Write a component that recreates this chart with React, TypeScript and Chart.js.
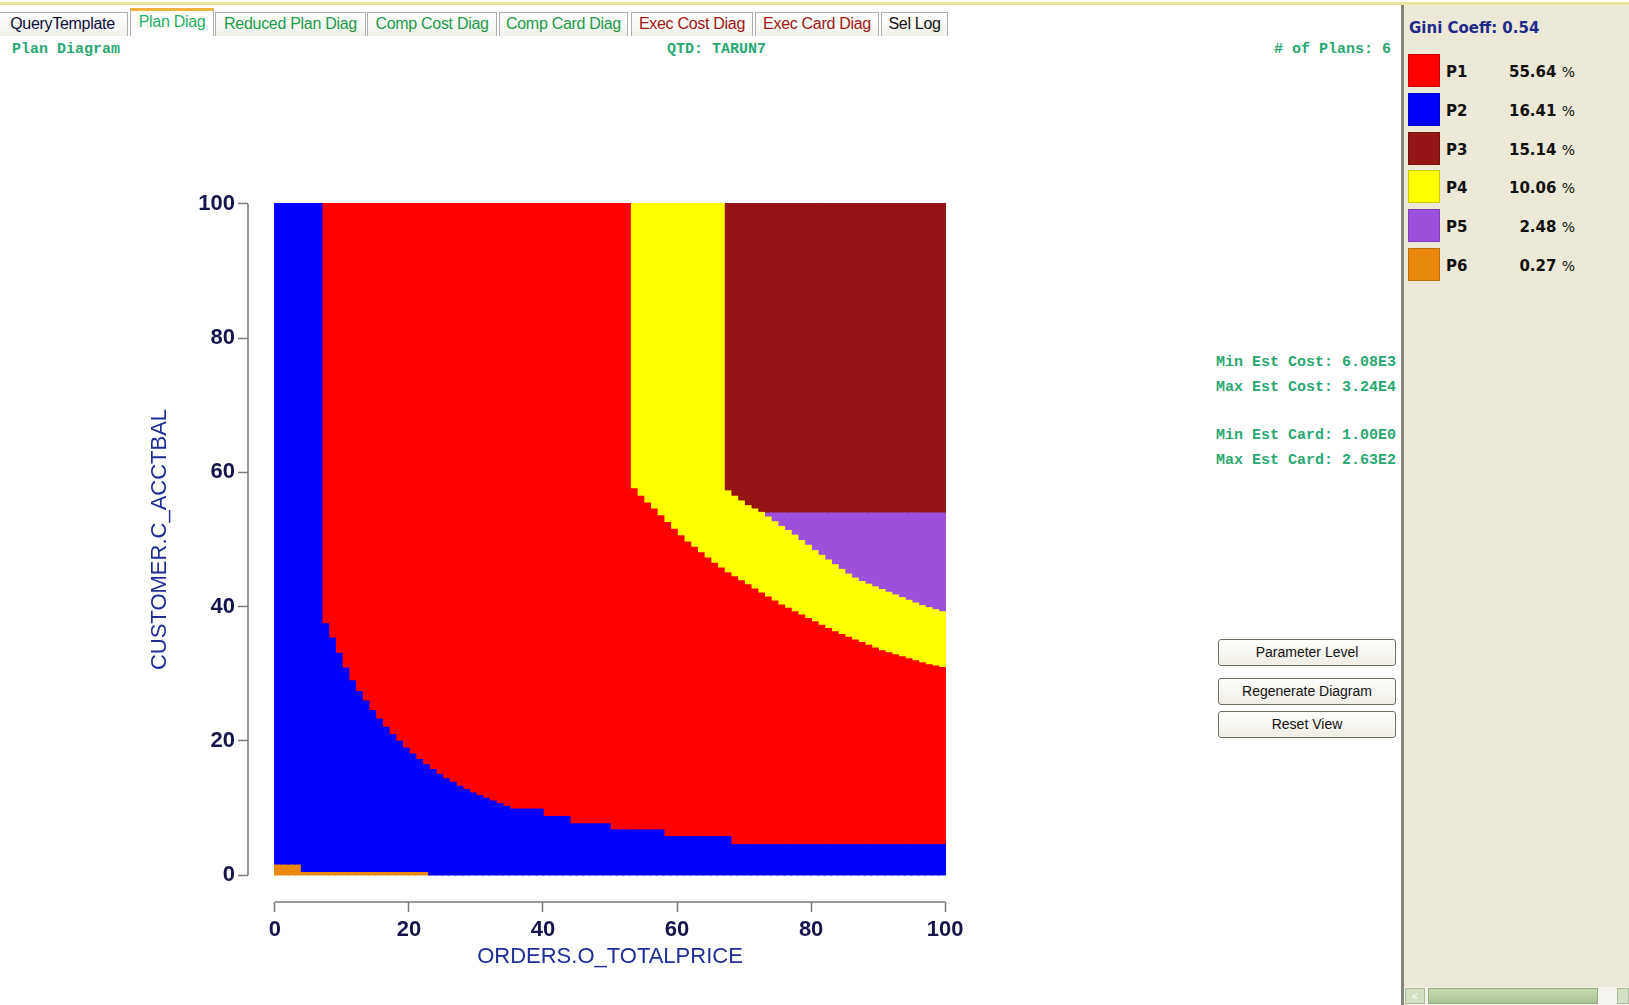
import React, { useEffect, useRef } from "react";
import { Chart, registerables } from "chart.js";

Chart.register(...registerables);

// ---------- data ----------
const X_TITLE = "ORDERS.O_TOTALPRICE";
const Y_TITLE = "CUSTOMER.C_ACCTBAL";
const X_TICKS = [0, 20, 40, 60, 80, 100];
const Y_TICKS = [0, 20, 40, 60, 80, 100];

const PLAN_NAMES = ["P1", "P2", "P3", "P4", "P5", "P6"];
const PLAN_SHARES = ["55.64", "16.41", "15.14", "10.06", "2.48", "0.27"];
const PLAN_COLORS = ["#ff0000", "#0000ff", "#951414", "#ffff00", "#9e50dc", "#e8890e"];

const GINI = "0.54";
const QTD = "TARUN7";
const PLAN_COUNT = 6;
const COST_STATS = ["Min Est Cost: 6.08E3", "Max Est Cost: 3.24E4"];
const CARD_STATS = ["Min Est Card: 1.00E0", "Max Est Card: 2.63E2"];

// grid columns 0..99 (each 1 unit wide)
// P6 (orange) top edge, columns 0..22
const P6_TOP = [1.7, 1.7, 1.7, 1.7, 0.6, 0.6, 0.6, 0.6, 0.6, 0.6, 0.6, 0.6, 0.6, 0.6, 0.6, 0.6, 0.6, 0.6, 0.6, 0.6, 0.6, 0.6, 0.6];

// P2 (blue) top edge, columns 0..99
const P2_TOP = [
  100, 100, 100, 100, 100, 100, 100,
  37.4, 35.3, 33.0, 30.8, 28.9, 27.3, 25.9, 24.5, 23.2, 22.0, 20.9, 19.9, 18.9, 18.0,
  17.2, 16.4, 15.7, 15.0, 14.3, 13.8, 13.2, 12.7, 12.2, 11.8, 11.4, 11.0, 10.6, 10.2,
  9.8, 9.8, 9.8, 9.8, 9.8,
  8.7, 8.7, 8.7, 8.7,
  7.6, 7.6, 7.6, 7.6, 7.6, 7.6,
  6.7, 6.7, 6.7, 6.7, 6.7, 6.7, 6.7, 6.7,
  5.7, 5.7, 5.7, 5.7, 5.7, 5.7, 5.7, 5.7, 5.7, 5.7,
  4.5, 4.5, 4.5, 4.5, 4.5, 4.5, 4.5, 4.5, 4.5, 4.5, 4.5, 4.5, 4.5, 4.5, 4.5, 4.5,
  4.5, 4.5, 4.5, 4.5, 4.5, 4.5, 4.5, 4.5, 4.5, 4.5, 4.5, 4.5, 4.5, 4.5, 4.5, 4.5,
];

// P4 (yellow) band, columns 53..99
const P4_START = 53;
const P4_BOTTOM = [
  57.5, 56.4, 55.4, 54.5, 53.5, 52.5, 51.5, 50.5, 49.6, 48.8,
  48.0, 47.2, 46.4, 45.7, 45.0, 44.4, 43.8, 43.2, 42.6, 42.0,
  41.4, 40.8, 40.2, 39.7, 39.2, 38.7, 38.2, 37.7, 37.2, 36.7,
  36.2, 35.8, 35.4, 35.0, 34.6, 34.2, 33.8, 33.4, 33.1, 32.8,
  32.5, 32.2, 31.9, 31.6, 31.3, 31.1, 30.9,
];
const P4_TOP = [
  100, 100, 100, 100, 100, 100, 100, 100, 100, 100, 100, 100, 100, 100,
  57.2, 56.4, 55.7, 55.0, 54.5, 54.0,
  53.3, 52.6, 51.9, 51.3, 50.6, 49.8, 49.1, 48.3, 47.6, 46.9,
  46.2, 45.5, 44.8, 44.2, 43.7, 43.3, 42.9, 42.5, 42.1, 41.7,
  41.3, 40.9, 40.5, 40.1, 39.8, 39.5, 39.2,
];

// P5 (purple) top edge, columns 73..99
const P5_START = 73;
const P5_TOP = [
  53.9, 53.9, 53.9, 53.9, 53.9, 53.9, 53.9, 53.9, 53.9, 53.9,
  53.9, 53.9, 53.9, 53.9, 53.9, 53.9, 53.9, 53.9, 53.9, 53.9,
  53.9, 53.9, 53.9, 53.9, 53.9, 53.9, 53.9,
];

// P3 (dark red) from column 67 up to the top
const P3_START = 67;
const GRID_TOP = 100;

// tabs
const TAB_LABELS = ["QueryTemplate", "Plan Diag", "Reduced Plan Diag", "Comp Cost Diag", "Comp Card Diag", "Exec Cost Diag", "Exec Card Diag", "Sel Log"];
const BUTTON_LABELS = ["Parameter Level", "Regenerate Diagram", "Reset View"];

// ---------- build floating bars ----------
function buildDatasets() {
  const c = (i: number) => i + 0.5;
  const p6 = P6_TOP.map((t, i) => ({ x: c(i), y: [0, t] }));
  const p2 = P2_TOP.map((t, i) => ({ x: c(i), y: [i < P6_TOP.length ? P6_TOP[i] : 0, t] }));
  const p1: any[] = [];
  P2_TOP.forEach((b, i) => {
    const top = i >= P4_START ? P4_BOTTOM[i - P4_START] : GRID_TOP;
    if (top > b) p1.push({ x: c(i), y: [b, top] });
  });
  const p4 = P4_BOTTOM.map((b, k) => ({ x: c(P4_START + k), y: [b, P4_TOP[k]] }));
  const p5 = P5_TOP.map((t, k) => ({ x: c(P5_START + k), y: [P4_TOP[P5_START - P4_START + k], t] }));
  const p3: any[] = [];
  for (let i = P3_START; i < P2_TOP.length; i++) {
    const b = i >= P5_START ? P5_TOP[i - P5_START] : P4_TOP[i - P4_START];
    p3.push({ x: c(i), y: [b, GRID_TOP] });
  }
  const mk = (idx: number, data: any[]) => ({
    label: PLAN_NAMES[idx],
    data,
    backgroundColor: PLAN_COLORS[idx],
    borderWidth: 0,
    inflateAmount: 0.8,
  });
  return [mk(1, p2), mk(0, p1), mk(3, p4), mk(4, p5), mk(2, p3), mk(5, p6)];
}

const axisLines = {
  id: "axisLines",
  afterDraw(chart: any) {
    const { ctx, scales, chartArea } = chart;
    const x = scales.x;
    const y = scales.y;
    ctx.save();
    ctx.strokeStyle = "#7a7a7a";
    ctx.lineWidth = 1.5;
    ctx.beginPath();
    ctx.moveTo(x.getPixelForValue(X_TICKS[0]), chartArea.bottom);
    ctx.lineTo(x.getPixelForValue(X_TICKS[X_TICKS.length - 1]), chartArea.bottom);
    ctx.moveTo(chartArea.left, y.getPixelForValue(Y_TICKS[0]));
    ctx.lineTo(chartArea.left, y.getPixelForValue(Y_TICKS[Y_TICKS.length - 1]));
    ctx.stroke();
    ctx.restore();
  },
};

function PlanChart() {
  const ref = useRef<HTMLCanvasElement | null>(null);
  useEffect(() => {
    if (!ref.current) return;
    const tickFont = { family: "'Liberation Sans', Arial, sans-serif", size: 22, weight: "bold" as const };
    const titleFont = { family: "'Liberation Sans', Arial, sans-serif", size: 22, weight: "normal" as const };
    const chart = new Chart(ref.current, {
      type: "bar",
      data: { datasets: buildDatasets() as any },
      options: {
        animation: false,
        responsive: false,
        devicePixelRatio: 1,
        events: [],
        datasets: { bar: { grouped: false, barPercentage: 1, categoryPercentage: 1 } } as any,
        layout: { padding: { left: 0, top: 177, right: 28, bottom: 0 } },
        plugins: { legend: { display: false }, tooltip: { enabled: false } },
        scales: {
          x: {
            type: "linear",
            min: -4,
            max: 104,
            offset: false,
            afterBuildTicks: (s: any) => { s.ticks = X_TICKS.map((v) => ({ value: v })); },
            afterFit: (s: any) => { s.height = 98; },
            grid: { display: true, offset: false, drawOnChartArea: false, drawTicks: true, tickLength: 10, tickColor: "#7a7a7a", tickWidth: 1.5 },
            border: { display: false },
            ticks: { font: tickFont, color: "#15154d", padding: 5, maxRotation: 0, autoSkip: false },
            title: { display: true, text: X_TITLE, font: titleFont, color: "#1f2d96", padding: { top: 0, bottom: 30 } },
          },
          y: {
            type: "linear",
            min: -4,
            max: 104,
            afterBuildTicks: (s: any) => { s.ticks = Y_TICKS.map((v) => ({ value: v })); },
            afterFit: (s: any) => { s.width = 248; },
            grid: { display: true, drawOnChartArea: false, drawTicks: true, tickLength: 10, tickColor: "#7a7a7a", tickWidth: 1.5 },
            border: { display: false },
            ticks: { font: tickFont, color: "#15154d", padding: 3, autoSkip: false },
            title: { display: true, text: Y_TITLE, font: titleFont, color: "#1f2d96", padding: { top: 147, bottom: 0 } },
          },
        },
      },
      plugins: [axisLines],
    });
    return () => chart.destroy();
  }, []);
  return (
    <canvas
      ref={ref}
      width={1000}
      height={1000}
      style={{ position: "absolute", left: 0, top: 0, width: 1000, height: 1000 }}
    />
  );
}

const mono = "'Liberation Mono', 'Courier New', monospace";
const sans = "'Liberation Sans', Arial, sans-serif";
const tahoma = "'DejaVu Sans', Verdana, sans-serif";

const TAB_GEOM = [
  { left: -3, width: 131 },
  { left: 130, width: 84 },
  { left: 215, width: 151 },
  { left: 367, width: 130 },
  { left: 499, width: 129 },
  { left: 631, width: 122 },
  { left: 755, width: 124 },
  { left: 881, width: 67 },
];
const TAB_COLORS = ["#0c0c3a", "#1fb060", "#229a4a", "#229a4a", "#229a4a", "#a01616", "#a01616", "#111111"];

export default function App() {
  const green = "#2aa872";
  return (
    <div style={{ position: "absolute", left: 0, top: 0, width: 1629, height: 1005, background: "#ffffff", overflow: "hidden", fontFamily: sans }}>
      <div style={{ position: "absolute", left: 0, top: 2, width: 1629, height: 3, background: "#ece29c" }} />
      {TAB_LABELS.map((t, i) => {
        const active = i === 1;
        return (
          <div
            key={t}
            style={{
              position: "absolute",
              left: TAB_GEOM[i].left,
              top: active ? 8 : 12,
              width: TAB_GEOM[i].width,
              height: active ? 28 : 24,
              boxSizing: "border-box",
              border: "1px solid #a9b1b3",
              borderBottom: "none",
              borderTop: active ? "3px solid #f2b33e" : "1px solid #a9b1b3",
              background: active ? "#ffffff" : "linear-gradient(#ffffff, #f1f1ec)",
              color: TAB_COLORS[i],
              fontSize: 16,
              lineHeight: "22px",
              textAlign: "center",
              whiteSpace: "nowrap",
              letterSpacing: -0.3,
            }}
          >
            {t}
          </div>
        );
      })}
      <div style={{ position: "absolute", left: 12, top: 41, font: `bold 15px ${mono}`, lineHeight: "18px", color: green, whiteSpace: "pre" }}>Plan Diagram</div>
      <div style={{ position: "absolute", left: 667, top: 41, font: `bold 15px ${mono}`, lineHeight: "18px", color: green, whiteSpace: "pre" }}>{`QTD: ${QTD}`}</div>
      <div style={{ position: "absolute", left: 1274, top: 41, font: `bold 15px ${mono}`, lineHeight: "18px", color: green, whiteSpace: "pre" }}>{`# of Plans: ${PLAN_COUNT}`}</div>
      {COST_STATS.concat(CARD_STATS).map((s, i) => (
        <div key={s} style={{ position: "absolute", left: 1216, top: [354, 379, 427, 452][i], font: `bold 15px ${mono}`, lineHeight: "18px", color: green, whiteSpace: "pre" }}>{s}</div>
      ))}
      {BUTTON_LABELS.map((b, i) => (
        <div
          key={b}
          style={{
            position: "absolute",
            left: 1218,
            top: [639, 678, 711][i],
            width: 178,
            height: 27,
            boxSizing: "border-box",
            border: "1px solid #6f6f62",
            borderRadius: 3,
            background: "linear-gradient(#fefefd, #efede4)",
            font: `14px ${sans}`,
            lineHeight: "25px",
            textAlign: "center",
            color: "#111",
          }}
        >
          {b}
        </div>
      ))}

      <PlanChart />

      {/* right panel */}
      <div style={{ position: "absolute", left: 1401, top: 5, width: 228, height: 1000, background: "#ece9d8", borderLeft: "3px solid #85857c", boxSizing: "border-box" }} />
      <div style={{ position: "absolute", left: 1409, top: 19, font: `bold 15px ${tahoma}`, lineHeight: "18px", color: "#1f2a8a", whiteSpace: "pre" }}>{`Gini Coeff: ${GINI}`}</div>
      {PLAN_NAMES.map((p, i) => (
        <React.Fragment key={p}>
          <div style={{ position: "absolute", left: 1408, top: 54 + i * 38.8, width: 32, height: 33, background: PLAN_COLORS[i], boxSizing: "border-box", border: "1px solid rgba(0,0,0,0.2)" }} />
          <div style={{ position: "absolute", left: 1446, top: 62 + i * 38.8, font: `bold 15px ${tahoma}`, lineHeight: "20px", color: "#111" }}>{p}</div>
          <div style={{ position: "absolute", left: 1480, width: 95, textAlign: "right", top: 62 + i * 38.8, font: `bold 15px ${tahoma}`, lineHeight: "20px", color: "#111", whiteSpace: "pre" }}>
            {PLAN_SHARES[i]} <span style={{ fontWeight: "normal", fontSize: 14 }}>%</span>
          </div>
        </React.Fragment>
      ))}
      {/* scrollbar */}
      <div style={{ position: "absolute", left: 1404, top: 987, width: 225, height: 18, background: "#f4f3ee" }} />
      <div style={{ position: "absolute", left: 1405, top: 988, width: 20, height: 16, background: "#d3e0c4", border: "1px solid #a9bb97", boxSizing: "border-box", fontSize: 11, lineHeight: "14px", textAlign: "center", color: "#fff" }}>{"<"}</div>
      <div style={{ position: "absolute", left: 1428, top: 988, width: 170, height: 16, background: "linear-gradient(#c9dbb6, #a9c291)", border: "1px solid #93ad7e", boxSizing: "border-box" }} />
      <div style={{ position: "absolute", left: 1617, top: 988, width: 12, height: 16, background: "#d3e0c4", border: "1px solid #a9bb97", boxSizing: "border-box" }} />
    </div>
  );
}
